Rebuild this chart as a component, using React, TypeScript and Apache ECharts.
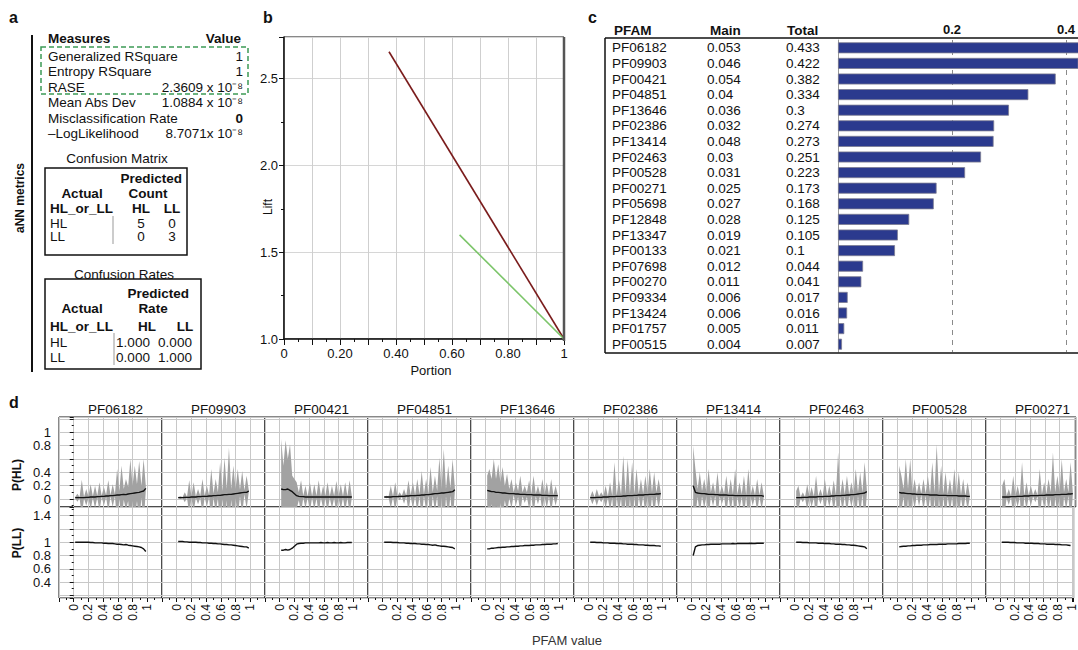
import React, { useEffect, useRef } from "react";
import * as echarts from "echarts";

const FONT = "'Liberation Sans', Arial, Helvetica, sans-serif";

// ---------------- Panel a: aNN metrics ----------------
const measureNames = [
  "Generalized RSquare",
  "Entropy RSquare",
  "RASE",
  "Mean Abs Dev",
  "Misclassification Rate",
  "\u2013LogLikelihood",
];
const measureValues = [
  "1",
  "1",
  "2.3609 x 10\u207B\u2078",
  "1.0884 x 10\u207B\u2078",
  "0",
  "8.7071x 10\u207B\u2078",
];
const classLabels = ["HL", "LL"];
const confusionCounts = [
  [5, 0],
  [0, 3],
];
const confusionRates = [
  ["1.000", "0.000"],
  ["0.000", "1.000"],
];

// ---------------- Panel b: lift curves ----------------
const liftRed = [
  [0.375, 2.655],
  [1.0, 1.0],
];
const liftGreen = [
  [0.627, 1.6],
  [1.0, 1.0],
];

// ---------------- Panel c: PFAM sensitivity table ----------------
const pfamIds = [
  "PF06182", "PF09903", "PF00421", "PF04851", "PF13646", "PF02386", "PF13414",
  "PF02463", "PF00528", "PF00271", "PF05698", "PF12848", "PF13347", "PF00133",
  "PF07698", "PF00270", "PF09334", "PF13424", "PF01757", "PF00515",
];
const mainEffect = [
  0.053, 0.046, 0.054, 0.04, 0.036, 0.032, 0.048, 0.03, 0.031, 0.025, 0.027,
  0.028, 0.019, 0.021, 0.012, 0.011, 0.006, 0.006, 0.005, 0.004,
];
const totalEffect = [
  0.433, 0.422, 0.382, 0.334, 0.3, 0.274, 0.273, 0.251, 0.223, 0.173, 0.168,
  0.125, 0.105, 0.1, 0.044, 0.041, 0.017, 0.016, 0.011, 0.007,
];

// ---------------- Panel d: profiler facets ----------------
const facetNames = ["PF06182", "PF09903", "PF00421", "PF04851", "PF13646", "PF02386", "PF13414", "PF02463", "PF00528", "PF00271"];
const pfamX = [
  0.02, 0.05, 0.08, 0.11, 0.14, 0.17, 0.2, 0.23, 0.26, 0.29, 0.32,
  0.35, 0.38, 0.41, 0.44, 0.47, 0.5, 0.53, 0.56, 0.59, 0.62, 0.65,
  0.68, 0.71, 0.74, 0.77, 0.8, 0.83, 0.86, 0.89, 0.92, 0.95, 0.98,
];
const hlMean = [
  [0.02,0.02,0.02,0.02,0.02,0.025,0.025,0.03,0.03,0.03,0.035, 0.035,0.04,0.04,0.045,0.045,0.05,0.05,0.055,0.06,0.06,0.065, 0.07,0.065,0.075,0.08,0.085,0.09,0.095,0.1,0.11,0.12,0.16],
  [0.02,0.02,0.02,0.025,0.025,0.025,0.03,0.03,0.03,0.035,0.035, 0.04,0.04,0.04,0.045,0.045,0.05,0.05,0.055,0.055,0.06,0.065, 0.065,0.07,0.07,0.075,0.08,0.085,0.09,0.095,0.1,0.1,0.12],
  [0.15,0.14,0.14,0.15,0.13,0.11,0.08,0.05,0.04,0.035,0.035, 0.03,0.03,0.03,0.03,0.03,0.03,0.03,0.03,0.03,0.03,0.03, 0.03,0.03,0.03,0.03,0.03,0.03,0.03,0.03,0.03,0.03,0.03],
  [0.03,0.03,0.03,0.03,0.035,0.035,0.035,0.04,0.04,0.04,0.045, 0.045,0.05,0.05,0.05,0.055,0.055,0.06,0.06,0.065,0.065,0.07, 0.075,0.08,0.08,0.085,0.09,0.09,0.095,0.1,0.105,0.11,0.14],
  [0.13,0.12,0.11,0.11,0.1,0.1,0.095,0.09,0.09,0.085,0.08, 0.08,0.08,0.075,0.075,0.07,0.07,0.07,0.065,0.065,0.065,0.06, 0.06,0.06,0.06,0.055,0.055,0.055,0.05,0.05,0.05,0.05,0.05],
  [0.02,0.02,0.02,0.025,0.025,0.025,0.03,0.03,0.03,0.035,0.035, 0.035,0.04,0.04,0.04,0.045,0.045,0.05,0.05,0.05,0.055,0.055, 0.06,0.06,0.06,0.065,0.065,0.07,0.07,0.07,0.075,0.075,0.08],
  [0.2,0.1,0.09,0.085,0.08,0.08,0.075,0.07,0.07,0.07,0.065, 0.065,0.06,0.06,0.06,0.06,0.055,0.055,0.055,0.05,0.05,0.05, 0.05,0.05,0.05,0.05,0.05,0.05,0.05,0.05,0.05,0.05,0.04],
  [0.02,0.02,0.02,0.025,0.025,0.025,0.03,0.03,0.03,0.03,0.035, 0.035,0.035,0.04,0.04,0.04,0.045,0.045,0.05,0.05,0.05,0.055, 0.055,0.06,0.06,0.065,0.065,0.07,0.075,0.08,0.085,0.09,0.11],
  [0.1,0.09,0.09,0.085,0.08,0.08,0.075,0.075,0.07,0.07,0.07, 0.065,0.065,0.065,0.06,0.06,0.06,0.06,0.055,0.055,0.055,0.055, 0.05,0.05,0.05,0.05,0.05,0.045,0.045,0.045,0.045,0.04,0.04],
  [0.03,0.03,0.03,0.03,0.035,0.035,0.035,0.04,0.04,0.04,0.045, 0.045,0.045,0.05,0.05,0.05,0.05,0.055,0.055,0.055,0.06,0.06, 0.06,0.06,0.065,0.065,0.065,0.07,0.07,0.07,0.075,0.075,0.08],
];
const hlUpper = [
  [0.03,0.08,0.03,0.29,0.03,0.15,0.04,0.22,0.04,0.2,0.05, 0.25,0.05,0.18,0.06,0.28,0.06,0.22,0.07,0.45,0.12,0.5, 0.15,0.3,0.18,0.6,0.2,0.5,0.22,0.57,0.2,0.6,0.2],
  [0.03,0.04,0.03,0.1,0.03,0.28,0.04,0.25,0.04,0.15,0.05, 0.3,0.05,0.2,0.06,0.45,0.08,0.3,0.1,0.55,0.12,0.62, 0.15,0.77,0.15,0.5,0.15,0.45,0.14,0.42,0.13,0.35,0.13],
  [0.9,0.5,0.88,0.6,0.82,0.35,0.3,0.25,0.1,0.28,0.05, 0.2,0.04,0.25,0.04,0.22,0.05,0.28,0.04,0.2,0.05,0.25, 0.04,0.2,0.05,0.27,0.04,0.22,0.04,0.25,0.04,0.28,0.04],
  [0.03,0.05,0.04,0.2,0.04,0.25,0.04,0.1,0.05,0.15,0.05, 0.28,0.06,0.25,0.06,0.3,0.07,0.42,0.07,0.3,0.08,0.48, 0.1,0.35,0.12,0.62,0.15,0.75,0.15,0.5,0.16,0.6,0.18],
  [0.35,0.45,0.3,0.6,0.3,0.52,0.25,0.48,0.2,0.38,0.15, 0.3,0.1,0.25,0.12,0.35,0.1,0.2,0.1,0.28,0.08,0.35, 0.08,0.2,0.07,0.3,0.07,0.25,0.06,0.3,0.06,0.2,0.06],
  [0.03,0.12,0.03,0.15,0.04,0.1,0.04,0.2,0.04,0.25,0.05, 0.55,0.05,0.3,0.06,0.65,0.07,0.6,0.08,0.55,0.08,0.45, 0.08,0.3,0.08,0.35,0.09,0.45,0.1,0.4,0.1,0.3,0.1],
  [0.8,0.45,0.15,0.4,0.12,0.3,0.1,0.45,0.1,0.25,0.08, 0.4,0.08,0.2,0.08,0.35,0.07,0.3,0.07,0.45,0.07,0.25, 0.07,0.35,0.06,0.45,0.06,0.2,0.06,0.3,0.06,0.25,0.05],
  [0.12,0.2,0.03,0.1,0.03,0.22,0.04,0.18,0.04,0.35,0.04, 0.15,0.04,0.3,0.05,0.2,0.05,0.28,0.06,0.7,0.06,0.3, 0.07,0.35,0.07,0.25,0.08,0.45,0.1,0.4,0.1,0.55,0.15],
  [0.5,0.35,0.15,0.6,0.15,0.6,0.1,0.3,0.08,0.25,0.08, 0.3,0.08,0.35,0.08,0.55,0.09,0.82,0.09,0.5,0.08,0.4, 0.07,0.3,0.07,0.45,0.06,0.4,0.06,0.3,0.05,0.25,0.05],
  [0.2,0.3,0.05,0.15,0.04,0.35,0.05,0.2,0.05,0.55,0.05, 0.25,0.06,0.2,0.06,0.15,0.06,0.45,0.07,0.25,0.08,0.3, 0.1,0.7,0.1,0.35,0.1,0.6,0.1,0.3,0.1,0.55,0.1],
];
const llMean = [
  [1.0,1.0,1.0,1.0,1.0,1.0,1.0,0.995,0.995,0.99,0.99, 0.99,0.99,0.985,0.985,0.98,0.98,0.98,0.975,0.97,0.97,0.965, 0.96,0.965,0.955,0.95,0.945,0.94,0.935,0.93,0.92,0.9,0.86],
  [1.01,1.01,1.01,1.005,1.005,1.0,1.0,1.0,1.0,0.995,0.995, 0.99,0.99,0.99,0.985,0.985,0.98,0.98,0.975,0.975,0.97,0.965, 0.965,0.96,0.96,0.955,0.95,0.945,0.94,0.935,0.93,0.93,0.91],
  [0.88,0.88,0.89,0.88,0.89,0.91,0.94,0.97,0.98,0.985,0.985, 0.99,0.99,0.99,0.99,0.99,0.99,0.99,0.995,0.99,0.99,0.995, 0.99,0.99,0.995,0.99,0.99,0.995,0.99,0.99,0.995,0.995,0.995],
  [1.0,1.0,1.0,1.0,0.995,0.995,0.995,0.99,0.99,0.99,0.985, 0.985,0.98,0.98,0.98,0.975,0.975,0.97,0.97,0.965,0.965,0.96, 0.955,0.96,0.95,0.945,0.94,0.94,0.935,0.93,0.925,0.92,0.9],
  [0.9,0.9,0.91,0.91,0.915,0.92,0.92,0.925,0.925,0.93,0.93, 0.935,0.935,0.94,0.94,0.945,0.945,0.95,0.95,0.95,0.955,0.955, 0.96,0.96,0.96,0.965,0.965,0.97,0.97,0.97,0.975,0.975,0.98],
  [1.0,1.0,1.0,0.995,0.995,0.995,0.99,0.99,0.99,0.985,0.985, 0.985,0.98,0.98,0.98,0.975,0.975,0.97,0.97,0.97,0.965,0.965, 0.96,0.96,0.96,0.955,0.955,0.95,0.95,0.95,0.945,0.945,0.94],
  [0.8,0.93,0.95,0.955,0.96,0.96,0.965,0.965,0.97,0.97,0.97, 0.97,0.97,0.975,0.975,0.975,0.975,0.975,0.98,0.975,0.98,0.98, 0.98,0.98,0.98,0.98,0.985,0.98,0.98,0.985,0.985,0.985,0.985],
  [1.0,1.0,1.0,0.995,0.995,0.995,0.99,0.99,0.99,0.99,0.985, 0.985,0.985,0.98,0.98,0.98,0.975,0.975,0.97,0.97,0.97,0.965, 0.965,0.96,0.96,0.955,0.955,0.95,0.945,0.94,0.935,0.93,0.9],
  [0.93,0.935,0.94,0.94,0.945,0.945,0.95,0.95,0.955,0.955,0.955, 0.96,0.96,0.96,0.965,0.965,0.965,0.965,0.97,0.97,0.97,0.97, 0.975,0.975,0.975,0.975,0.975,0.98,0.98,0.98,0.98,0.985,0.985],
  [1.0,1.0,1.0,1.0,0.995,0.995,0.995,0.99,0.99,0.99,0.99, 0.985,0.985,0.985,0.985,0.98,0.98,0.98,0.975,0.975,0.975,0.97, 0.97,0.97,0.97,0.965,0.965,0.965,0.96,0.96,0.96,0.955,0.95],
];
const hlTickLabels = ["0", "0.2", "0.4", "0.8", "1"];
const llTickLabels = ["0.4", "0.6", "0.8", "1", "1.4"];
const pfamTickLabels = ["0", "0.2", "0.4", "0.6", "0.8", "1"];

// ---------------- helpers ----------------
function t(text: string, x: number, y: number, o: any = {}) {
  return {
    type: "text",
    x,
    y,
    rotation: o.rot || 0,
    silent: true,
    z: 100,
    style: {
      text,
      fontFamily: FONT,
      fontSize: o.size || 13.5,
      fontWeight: o.bold ? "bold" : "normal",
      fill: o.color || "#111",
      align: o.align || "left",
      verticalAlign: "middle",
    },
  };
}
function ln(x1: number, y1: number, x2: number, y2: number, stroke = "#111", lineWidth = 1, dash?: number[]) {
  const style: any = { stroke, lineWidth };
  if (dash) style.lineDash = dash;
  return { type: "line", silent: true, z: 100, shape: { x1, y1, x2, y2 }, style };
}
function rc(x: number, y: number, w: number, h: number, stroke = "#111", lineWidth = 1, dash?: number[]) {
  const style: any = { fill: "transparent", stroke, lineWidth };
  if (dash) style.lineDash = dash;
  return { type: "rect", silent: true, z: 100, shape: { x, y, width: w, height: h }, style };
}
function labelFrom(list: string[]) {
  return (v: number) => {
    const s = String(Math.round(v * 1000) / 1000);
    return list.indexOf(s) >= 0 ? s : "";
  };
}

function buildOption() {
  const graphic: any[] = [];
  const grid: any[] = [];
  const xAxis: any[] = [];
  const yAxis: any[] = [];
  const series: any[] = [];

  // ===== Panel a =====
  graphic.push(t("a", 9, 17, { bold: true, size: 16 }));
  graphic.push(ln(32, 35, 32, 372, "#111", 2));
  graphic.push(t("aNN metrics", 20, 198, { bold: true, size: 12, rot: Math.PI / 2, align: "center" }));
  graphic.push(t("Measures", 48, 38, { bold: true }));
  graphic.push(t("Value", 241, 38, { bold: true, align: "right" }));
  measureNames.forEach((name, i) => {
    const y = 56 + i * 15.5;
    graphic.push(t(name, 48, y));
    graphic.push(t(measureValues[i], 243, y, { align: "right", bold: measureValues[i] === "0" }));
  });
  graphic.push(rc(41, 47, 207, 47, "#3c9a55", 1.5, [5, 3]));

  // Confusion matrix
  graphic.push(t("Confusion Matrix", 117, 158, { align: "center" }));
  graphic.push(rc(45, 168, 142, 87, "#111", 1.5));
  graphic.push(t("Predicted", 182, 178, { bold: true, align: "right" }));
  graphic.push(t("Actual", 82, 193, { bold: true, align: "center" }));
  graphic.push(t("Count", 148, 193, { bold: true, align: "center" }));
  graphic.push(t("HL_or_LL", 50, 208, { bold: true }));
  graphic.push(t(classLabels[0], 141, 208, { bold: true, align: "center" }));
  graphic.push(t(classLabels[1], 172, 208, { bold: true, align: "center" }));
  confusionCounts.forEach((row, r) => {
    const y = 223 + r * 13;
    graphic.push(t(classLabels[r], 50, y));
    graphic.push(t(String(row[0]), 141, y, { align: "center" }));
    graphic.push(t(String(row[1]), 172, y, { align: "center" }));
  });
  graphic.push(ln(113, 216, 113, 244, "#999", 1));

  // Confusion rates
  graphic.push(t("Confusion Rates", 124, 274, { align: "center" }));
  graphic.push(rc(45, 279, 156, 90, "#111", 1.5));
  graphic.push(t("Predicted", 189, 293, { bold: true, align: "right" }));
  graphic.push(t("Actual", 82, 308, { bold: true, align: "center" }));
  graphic.push(t("Rate", 153, 308, { bold: true, align: "center" }));
  graphic.push(t("HL_or_LL", 50, 326, { bold: true }));
  graphic.push(t(classLabels[0], 147, 326, { bold: true, align: "center" }));
  graphic.push(t(classLabels[1], 185, 326, { bold: true, align: "center" }));
  confusionRates.forEach((row, r) => {
    const y = 342 + r * 15;
    graphic.push(t(classLabels[r], 50, y));
    graphic.push(t(row[0], 133, y, { align: "center" }));
    graphic.push(t(row[1], 175, y, { align: "center" }));
  });
  graphic.push(ln(114, 333, 114, 365, "#999", 1));

  // ===== Panel b =====
  graphic.push(t("b", 263, 17, { bold: true, size: 16 }));
  graphic.push(t("Lift", 268, 207, { rot: Math.PI / 2, align: "center", size: 12 }));
  graphic.push(t("Portion", 431, 370, { align: "center", size: 13 }));
  graphic.push(ln(564, 37, 564, 341, "#555", 2.5));
  grid.push({ left: 284, top: 37, width: 280, height: 302, show: true, borderColor: "#111", borderWidth: 1, backgroundColor: "transparent" });
  xAxis.push({
    type: "value", gridIndex: 0, min: 0, max: 1, interval: 0.1,
    axisLine: { show: true, onZero: false, lineStyle: { color: "#111", width: 1.5 } },
    axisTick: { show: true, length: 6, lineStyle: { color: "#111" } },
    minorTick: { show: true, splitNumber: 2, length: 3, lineStyle: { color: "#111" } },
    splitLine: { show: true, lineStyle: { color: "#cfcfcf" } },
    minorSplitLine: { show: false },
    axisLabel: {
      fontSize: 13, color: "#111", fontFamily: FONT, margin: 8,
      formatter: (v: number) => {
        const r = Math.round(v * 100) / 100;
        if (r === 0) return "0";
        if (r === 1) return "1";
        return Math.round(r * 10) % 2 === 0 ? r.toFixed(2) : "";
      },
    },
  });
  yAxis.push({
    type: "value", gridIndex: 0, min: 1, max: 2.74, interval: 0.5,
    axisLine: { show: true, onZero: false, lineStyle: { color: "#111", width: 1.5 } },
    axisTick: { show: true, length: 5, lineStyle: { color: "#111" } },
    minorTick: { show: true, splitNumber: 2, length: 3, lineStyle: { color: "#111" } },
    splitLine: { show: true, lineStyle: { color: "#d6d6d6" } },
    axisLabel: {
      fontSize: 13, color: "#111", fontFamily: FONT, margin: 6,
      formatter: (v: number) => (Math.abs(v * 2 - Math.round(v * 2)) < 1e-6 ? v.toFixed(1) : ""),
    },
  });
  series.push({ type: "line", xAxisIndex: 0, yAxisIndex: 0, data: liftRed, symbol: "none", lineStyle: { color: "#7a1c1c", width: 1.6 } });
  series.push({ type: "line", xAxisIndex: 0, yAxisIndex: 0, data: liftGreen, symbol: "none", lineStyle: { color: "#7cc56a", width: 1.6 } });

  // ===== Panel c =====
  graphic.push(t("c", 588, 17, { bold: true, size: 16 }));
  graphic.push(t("PFAM", 614, 30, { bold: true }));
  graphic.push(t("Main", 710, 30, { bold: true }));
  graphic.push(t("Total", 787, 30, { bold: true }));
  graphic.push(ln(605, 38, 1078, 38, "#111", 1.5));
  graphic.push(ln(605, 38, 605, 353, "#111", 1.5));
  graphic.push(ln(605, 353, 1078, 353, "#111", 1.5));
  const cTop = 40, cH = 312;
  pfamIds.forEach((id, i) => {
    const y = cTop + (i + 0.5) * (cH / pfamIds.length);
    graphic.push(t(id, 612, y));
    graphic.push(t(String(mainEffect[i]), 707, y));
    graphic.push(t(String(totalEffect[i]), 786, y));
  });
  grid.push({ left: 838, top: cTop, width: 228.6, height: cH });
  xAxis.push({
    type: "value", gridIndex: 1, position: "top", min: 0, max: 0.4, interval: 0.2,
    axisLine: { show: false }, axisTick: { show: false },
    splitLine: { show: true, lineStyle: { color: "#8a8a8a", type: [5, 5], width: 1 } },
    axisLabel: {
      fontSize: 13, fontWeight: "bold", color: "#111", fontFamily: FONT, margin: 4,
      formatter: labelFrom(["0.2", "0.4"]),
    },
  });
  yAxis.push({
    type: "category", gridIndex: 1, data: pfamIds, inverse: true,
    axisLine: { show: true, lineStyle: { color: "#999", width: 1 } },
    axisTick: { show: false }, axisLabel: { show: false }, splitLine: { show: false },
  });
  series.push({
    type: "bar", xAxisIndex: 1, yAxisIndex: 1, data: totalEffect, barWidth: 11, clip: false,
    itemStyle: { color: "#2b3a8e", borderColor: "#7c7c92", borderWidth: 0.8 },
  });

  // ===== Panel d =====
  graphic.push(t("d", 9, 402, { bold: true, size: 16 }));
  graphic.push(t("P(HL)", 17, 475, { rot: Math.PI / 2, align: "center", size: 12, bold: true }));
  graphic.push(t("P(LL)", 17, 543, { rot: Math.PI / 2, align: "center", size: 12, bold: true }));
  graphic.push(t("PFAM value", 567, 640, { align: "center", size: 13, color: "#333" }));
  const fLeft0 = 59, fW = 103, fRight = 1076;
  const topY = 417, topH = 90, botY = 507, botH = 91;
  const gridLineColor = "#c8c8c8";
  facetNames.forEach((name, i) => {
    const left = fLeft0 + i * fW;
    const width = i === facetNames.length - 1 ? fRight - left : fW;
    const xmax = -0.2 + (1.4 * width) / fW;
    graphic.push(t(name, left + fW / 2 + 5, 409, { align: "center" }));
    const gTop = grid.length;
    grid.push({ left, top: topY, width, height: topH, show: true, borderColor: "#111", borderWidth: 1, backgroundColor: "transparent" });
    const gBot = grid.length;
    grid.push({ left, top: botY, width, height: botH, show: true, borderColor: "#111", borderWidth: 1, backgroundColor: "transparent" });
    const first = i === 0;
    xAxis.push({
      type: "value", gridIndex: gTop, min: -0.2, max: xmax, interval: 0.2,
      axisLine: { show: false }, axisTick: { show: false }, axisLabel: { show: false },
      splitLine: { show: true, lineStyle: { color: gridLineColor } },
    });
    xAxis.push({
      type: "value", gridIndex: gBot, min: -0.2, max: xmax, interval: 0.2,
      axisLine: { show: false },
      axisTick: { show: true, length: 4, lineStyle: { color: "#111" } },
      minorTick: { show: true, splitNumber: 2, length: 2, lineStyle: { color: "#111" } },
      splitLine: { show: true, lineStyle: { color: gridLineColor } },
      axisLabel: {
        show: true, rotate: 90, fontSize: 12, color: "#111", fontFamily: FONT, margin: 6,
        formatter: (v: number) => (Math.abs(v * 5 - Math.round(v * 5)) < 1e-6 ? labelFrom(pfamTickLabels)(v) : ""),
      },
    });
    yAxis.push({
      type: "value", gridIndex: gTop, min: -0.12, max: 1.23, splitNumber: 7,
      axisLine: { show: false },
      axisTick: { show: first, length: 4, lineStyle: { color: "#111" } },
      minorTick: { show: first, splitNumber: 2, length: 2, lineStyle: { color: "#111" } },
      splitLine: { show: true, lineStyle: { color: gridLineColor } },
      axisLabel: {
        show: first, fontSize: 13, color: "#111", fontFamily: FONT, margin: 8,
        formatter: (v: number) => (Math.abs(v * 5 - Math.round(v * 5)) < 1e-6 ? labelFrom(hlTickLabels)(v) : ""),
      },
    });
    yAxis.push({
      type: "value", gridIndex: gBot, min: 0.16, max: 1.53, splitNumber: 7,
      axisLine: { show: false },
      axisTick: { show: first, length: 4, lineStyle: { color: "#111" } },
      minorTick: { show: first, splitNumber: 2, length: 2, lineStyle: { color: "#111" } },
      splitLine: { show: true, lineStyle: { color: gridLineColor } },
      axisLabel: {
        show: first, fontSize: 13, color: "#111", fontFamily: FONT, margin: 8,
        formatter: (v: number) => (Math.abs(v * 5 - Math.round(v * 5)) < 1e-6 ? labelFrom(llTickLabels)(v) : ""),
      },
    });
    const mean = hlMean[i];
    const upper = hlUpper[i];
    series.push({
      type: "custom", xAxisIndex: gTop, yAxisIndex: gTop, clip: true, silent: true,
      data: [[0.5, 0.5]],
      encode: { x: 0, y: 1 },
      renderItem: (_params: any, api: any) => {
        const up = pfamX.map((x, k) => api.coord([x, upper[k]]));
        const lo = pfamX.map((x, k) => api.coord([x, 2 * mean[k] - upper[k]])).reverse();
        return { type: "polygon", shape: { points: up.concat(lo) }, style: { fill: "#a2a2a2" } };
      },
    });
    series.push({
      type: "line", xAxisIndex: gTop, yAxisIndex: gTop, symbol: "none", clip: true,
      data: pfamX.map((x, k) => [x, mean[k]]),
      lineStyle: { color: "#111", width: 1.4 },
    });
    series.push({
      type: "line", xAxisIndex: gBot, yAxisIndex: gBot, symbol: "none", clip: true,
      data: pfamX.map((x, k) => [x, llMean[i][k]]),
      lineStyle: { color: "#111", width: 1.4 },
    });
  });

  return {
    animation: false,
    backgroundColor: "#ffffff",
    textStyle: { fontFamily: FONT },
    grid,
    xAxis,
    yAxis,
    series,
    graphic,
  };
}

export default function App() {
  const ref = useRef<HTMLDivElement>(null);
  useEffect(() => {
    if (!ref.current) return;
    const chart = echarts.init(ref.current, null, { renderer: "svg" });
    chart.setOption(buildOption() as any);
    return () => chart.dispose();
  }, []);
  return (
    <div
      ref={ref}
      style={{ position: "fixed", left: 0, top: 0, width: 1078, height: 650, background: "#fff" }}
    />
  );
}
